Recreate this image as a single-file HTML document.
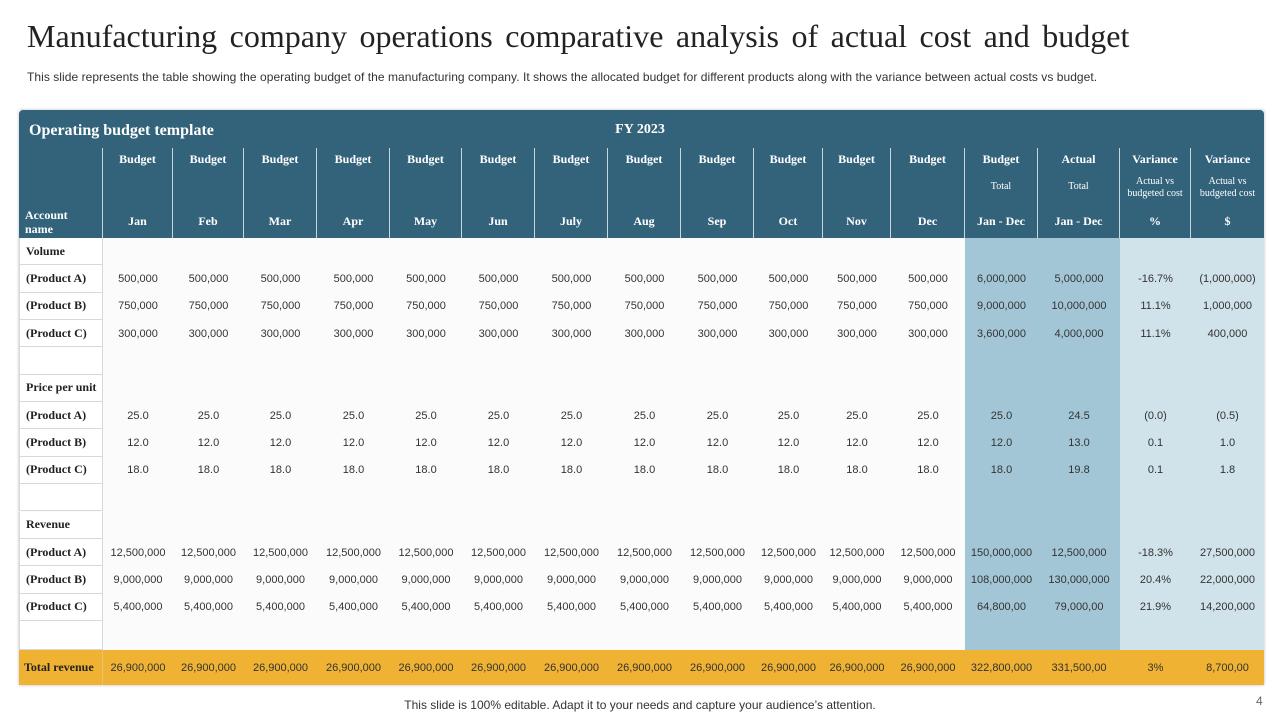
<!DOCTYPE html>
<html><head><meta charset="utf-8">
<style>
body{margin:0;width:1280px;height:720px;background:#fff;position:relative;overflow:hidden;font-family:"Liberation Sans",sans-serif;}
#title{position:absolute;left:27px;top:18px;font-family:"Liberation Serif",serif;font-size:32px;color:#222;word-spacing:4.5px;white-space:nowrap;}
#sub{position:absolute;left:27px;top:70px;font-size:12px;color:#333;white-space:nowrap;letter-spacing:0.05px;}
#foot{position:absolute;left:0;width:1280px;text-align:center;top:698px;font-size:12px;color:#333;}
#pg{position:absolute;left:1256px;top:694px;font-size:12px;color:#666;}
#tbl{position:absolute;left:0;top:0;}
.c{position:absolute;box-sizing:border-box;font-size:11px;color:#333;display:flex;align-items:center;justify-content:center;white-space:nowrap;}
.h{color:#fff;font-family:"Liberation Serif",serif;font-weight:bold;font-size:12px;}
.l{justify-content:flex-start;padding-left:6px;font-family:"Liberation Serif",serif;font-weight:bold;font-size:12px;color:#222;}
</style></head><body>
<div id="title">Manufacturing company operations comparative analysis of actual cost and budget</div>
<div id="sub">This slide represents the table showing the operating budget of the manufacturing company. It shows the allocated budget for different products along with the variance between actual costs vs budget.</div>
<div id="tbl"></div>
<div id="foot">This slide is 100% editable. Adapt it to your needs and capture your audience’s attention.</div>
<div id="pg">4</div>
<script>
const months=["Jan","Feb","Mar","Apr","May","Jun","July","Aug","Sep","Oct","Nov","Dec"];
const rowLabels=["Volume","(Product A)","(Product B)","(Product C)","","Price per unit","(Product A)","(Product B)","(Product C)","","Revenue","(Product A)","(Product B)","(Product C)",""];
const monthlyValues=[null,"500,000","750,000","300,000",null,null,"25.0","12.0","18.0",null,null,"12,500,000","9,000,000","5,400,000",null];
const budgetTotal=[null,"6,000,000","9,000,000","3,600,000",null,null,"25.0","12.0","18.0",null,null,"150,000,000","108,000,000","64,800,00",null];
const actualTotal=[null,"5,000,000","10,000,000","4,000,000",null,null,"24.5","13.0","19.8",null,null,"12,500,000","130,000,000","79,000,00",null];
const variancePct=[null,"-16.7%","11.1%","11.1%",null,null,"(0.0)","0.1","0.1",null,null,"-18.3%","20.4%","21.9%",null];
const varianceAmt=[null,"(1,000,000)","1,000,000","400,000",null,null,"(0.5)","1.0","1.8",null,null,"27,500,000","22,000,000","14,200,000",null];
const totalRow=["26,900,000","26,900,000","26,900,000","26,900,000","26,900,000","26,900,000","26,900,000","26,900,000","26,900,000","26,900,000","26,900,000","26,900,000","322,800,000","331,500,00","3%","8,700,00"];

const T=document.getElementById('tbl');
const xs=[19,103,173,244,317,390,462,535,608,681,754,823,891,965,1038,1120,1191,1264];
const rowH=27.35, rowTop=238, totalTop=650;
function cell(x,y,w,h,txt,cls,bg,name){
  const d=document.createElement('div');
  d.className='c '+(cls||'');
  d.style.left=x+'px';d.style.top=y+'px';d.style.width=w+'px';d.style.height=h+'px';
  if(bg)d.style.background=bg;
  d.textContent=txt||'';
  
  
  T.appendChild(d);return d;
}
cell(19,110,1245,575,'','', '#fbfbfb','table-body-bg').style.boxShadow='0 0 3px #bbb';
cell(965,238,155,412,'','','#a3c6d6','total-columns-bg');
cell(1120,238,144,412,'','','#d0e2ea','variance-columns-bg');
const hb=cell(19,110,1245,128,'','','#33637a','header-bg');hb.style.borderRadius='4px 4px 0 0';
const t1=cell(29,112,300,38,'Operating budget template','h','', 'table-title');t1.style.justifyContent='flex-start';t1.style.fontSize='16px';
const t2=cell(560,111,160,38,'FY 2023','h','','fiscal-year');t2.style.fontSize='14px';
const acc=cell(19,148,84,90,'','h','','account-name-header');acc.style.borderRight='1px solid #c9d6dc';
acc.innerHTML='<span style="position:absolute;left:6px;top:60px;line-height:14px;font-size:12px">Account<br>name</span>';
const top1=[...months.map(()=>"Budget"),"Budget","Actual","Variance","Variance"];
const mid=[...months.map(()=>""),"Total","Total","Actual vs<br>budgeted cost","Actual vs<br>budgeted cost"];
const bot=[...months,"Jan - Dec","Jan - Dec","%","$"];
for(let i=0;i<16;i++){
  const x=xs[i+1],w=xs[i+2]-x;
  const c=cell(x,148,w,90,'','h','','column-header-'+bot[i].toLowerCase().replace(/[^a-z%$]+/g,'-'));
  if(i<15)c.style.borderRight='1px solid #c9d6dc';
  c.innerHTML='<span style="position:absolute;top:4px;left:0;right:0;text-align:center;font-size:12px">'+top1[i]+'</span>'+
   '<span style="position:absolute;top:'+(mid[i].includes('<br>')?28:33)+'px;left:0;right:0;text-align:center;font-weight:normal;font-size:10px;line-height:12px">'+mid[i]+'</span>'+
   '<span style="position:absolute;top:66px;left:0;right:0;text-align:center;font-size:12px">'+bot[i]+'</span>';
}
for(let r=0;r<rowLabels.length;r++){
  const y=rowTop+r*rowH;
  const h=(r===rowLabels.length-1)?(totalTop-y):rowH;
  const lc=cell(19,y,84,h,rowLabels[r],'l','#fff','row-label-'+(rowLabels[r]||'blank').toLowerCase().replace(/[^a-z]+/g,'-'));
  lc.style.borderBottom='1px solid #d8d8d8';lc.style.borderRight='1px solid #d8d8d8';lc.style.borderLeft='1px solid #d8d8d8';
  if(monthlyValues[r]!==null){
    for(let m=0;m<12;m++){cell(xs[m+1],y,xs[m+2]-xs[m+1],rowH,monthlyValues[r],'','','value-'+months[m].toLowerCase());}
    cell(xs[13],y,xs[14]-xs[13],rowH,budgetTotal[r],'','','budget-total-value');
    cell(xs[14],y,xs[15]-xs[14],rowH,actualTotal[r],'','','actual-total-value');
    cell(xs[15],y,xs[16]-xs[15],rowH,variancePct[r],'','','variance-pct-value');
    cell(xs[16],y,xs[17]-xs[16],rowH,varianceAmt[r],'','','variance-amount-value');
  }
}
cell(19,totalTop,1245,685-totalTop,'','','#f0b232','total-row-bg');
const tl=cell(19,totalTop,84,685-totalTop,'Total revenue','l','', 'total-revenue-label');tl.style.paddingLeft='5px';tl.style.borderRight='1px solid #e3c27a';
for(let i=0;i<16;i++){cell(xs[i+1],totalTop,xs[i+2]-xs[i+1],685-totalTop,totalRow[i],'','','total-revenue-value');}
</script>
</body></html>
